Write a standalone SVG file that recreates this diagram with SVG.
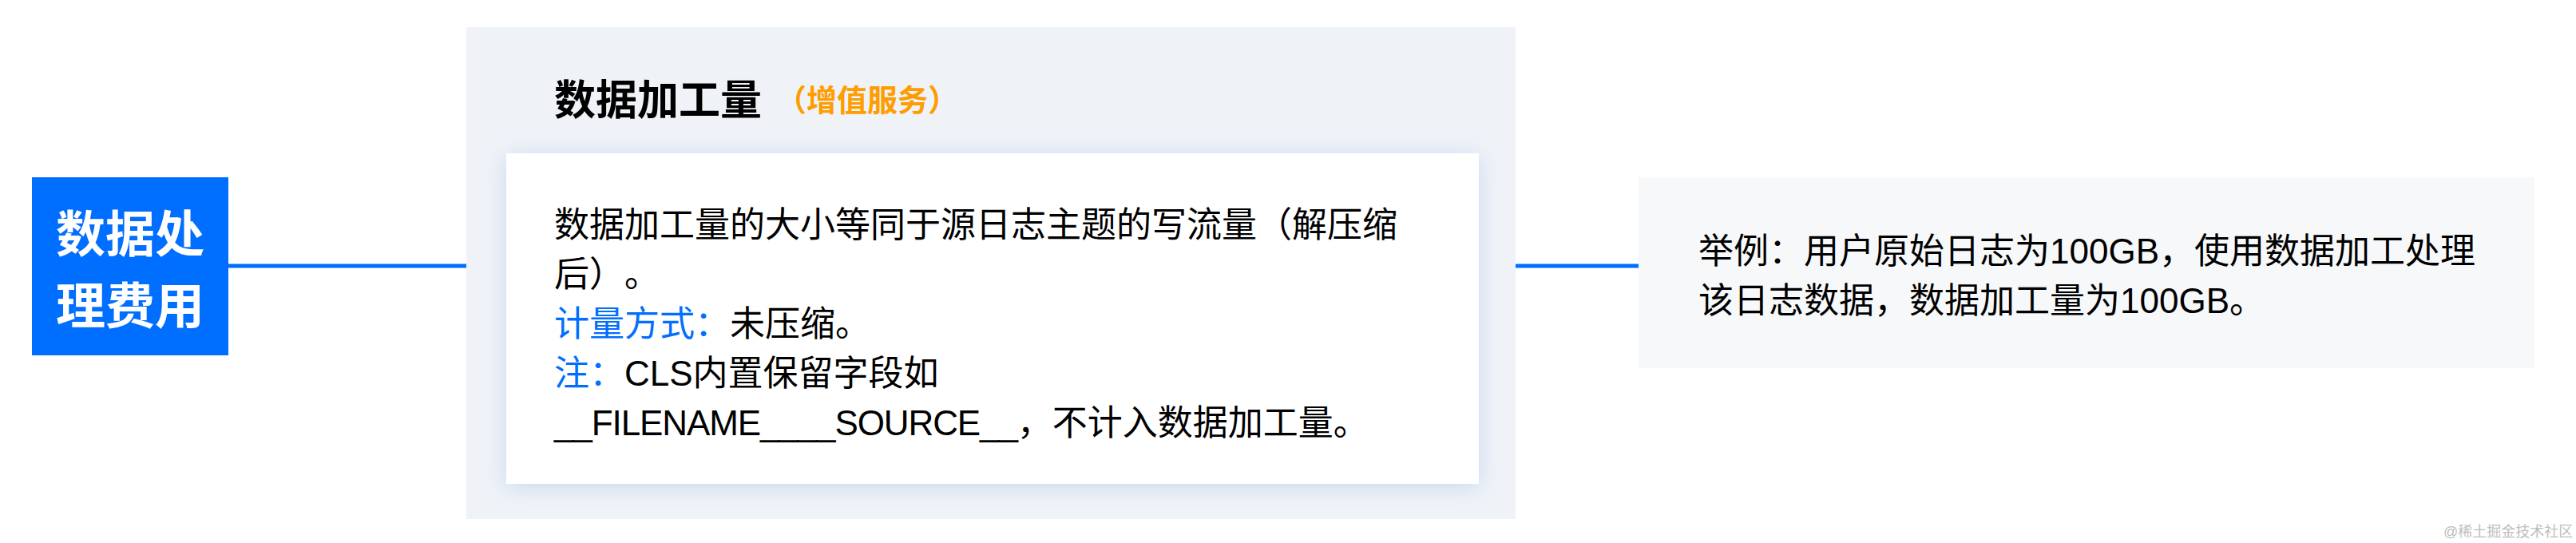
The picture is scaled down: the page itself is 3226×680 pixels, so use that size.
<svg xmlns="http://www.w3.org/2000/svg" width="3226" height="680" viewBox="0 0 3226 680">
  <style>
    .t { font-family: "Liberation Sans", "Noto Sans CJK SC", sans-serif; text-spacing-trim: space-all; }
    .body { font-size: 44px; fill: #000000; }
    .blue { fill: #006eff; }
    .conn { stroke: #006eff; stroke-width: 5; fill: none; }
  </style>
  <defs>
    <filter id="cardShadow" x="-10%" y="-20%" width="120%" height="140%">
      <feDropShadow dx="0" dy="4" stdDeviation="14" flood-color="#c5d4ea" flood-opacity="0.9"/>
    </filter>
  </defs>
  <rect x="0" y="0" width="3226" height="680" fill="#ffffff"/>

  <g id="connectors">
    <line class="conn" x1="286" y1="333" x2="584" y2="333"/>
    <line class="conn" x1="1898" y1="333" x2="2052" y2="333"/>
  </g>

  <g id="node-fee">
    <rect x="40" y="222" width="246" height="223" fill="#006eff"/>
    <text class="t" x="163" y="316" font-size="62" font-weight="bold" fill="#ffffff" text-anchor="middle">数据处</text>
    <text class="t" x="163" y="406" font-size="62" font-weight="bold" fill="#ffffff" text-anchor="middle">理费用</text>
  </g>

  <g id="node-processing">
    <rect x="584" y="34" width="1314" height="616" fill="#eff3f8"/>
    <text class="t" x="694" y="144" font-size="52" font-weight="bold" fill="#000000">数据加工量</text>
    <text class="t" x="972" y="139" font-size="38" font-weight="bold" fill="#ff9c00">（增值服务）</text>
    <rect x="634" y="192" width="1218" height="414" fill="#ffffff" filter="url(#cardShadow)"/>
    <text class="t body" x="694" y="297">数据加工量的大小等同于源日志主题的写流量（解压缩</text>
    <text class="t body" x="694" y="359">后）。</text>
    <text class="t body" x="694" y="421"><tspan class="blue">计量方式：</tspan>未压缩。</text>
    <text class="t body" x="694" y="483"><tspan class="blue">注：</tspan>CLS内置保留字段如</text>
    <text class="t body" x="694" y="545"><tspan letter-spacing="-1.1">__FILENAME____SOURCE__</tspan>，不计入数据加工量。</text>
  </g>

  <g id="node-example">
    <rect x="2052" y="222" width="1122" height="239" fill="#f7f8fa"/>
    <text class="t body" x="2127" y="330">举例：用户原始日志为100GB，使用数据加工处理</text>
    <text class="t body" x="2127" y="392">该日志数据，数据加工量为100GB。</text>
  </g>

  <text class="t" x="3060" y="672" font-size="18" fill="#bdbdbd">@稀土掘金技术社区</text>
</svg>
